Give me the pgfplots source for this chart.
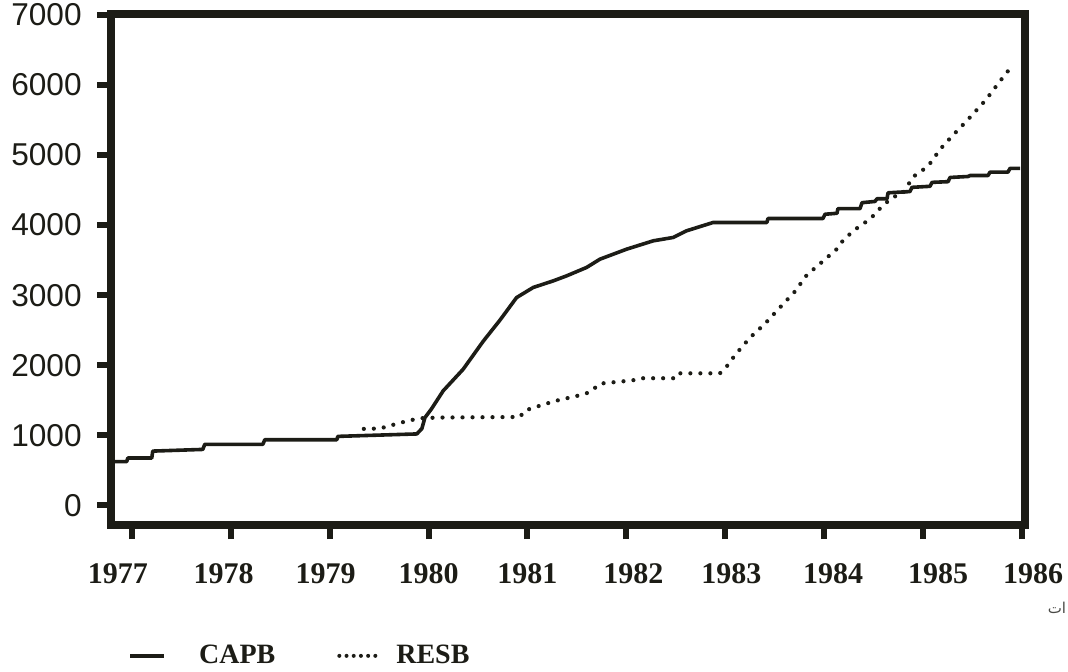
\documentclass[border=0pt]{standalone}
\usepackage{pgfplots}
\pgfplotsset{compat=1.18}
\usepackage{pgfplotstable}
\usepackage{fontspec}
\setmainfont{Liberation Serif}
\newfontfamily\sansf{Liberation Sans}
\newfontfamily\arabicfont[Script=Arabic]{DejaVu Sans}
\TeXXeTstate=1
\definecolor{ink}{HTML}{1C1C16}
\newcommand{\sh}[2]{\makebox[0pt]{\hspace{#1}#2}}

\pgfplotstableread{
x y
1976.808 625
1976.949 625
1976.960 676
1977.202 676
1977.212 775
1977.718 799
1977.738 872
1978.325 872
1978.345 937
1979.073 937
1979.083 985
1979.882 1020
1979.933 1097
1979.963 1251
1980.031 1380
1980.148 1635
1980.350 1943
1980.553 2343
1980.721 2642
1980.890 2966
1981.058 3110
1981.260 3204
1981.396 3276
1981.598 3396
1981.733 3514
1982.003 3657
1982.272 3776
1982.474 3824
1982.609 3919
1982.878 4038
1983.421 4038
1983.431 4094
1983.987 4094
1984.008 4155
1984.129 4169
1984.139 4235
1984.362 4235
1984.382 4320
1984.513 4338
1984.534 4376
1984.635 4376
1984.645 4461
1984.867 4479
1984.887 4539
1985.070 4554
1985.090 4610
1985.252 4620
1985.272 4680
1985.454 4694
1985.474 4708
1985.656 4708
1985.676 4756
1985.858 4756
1985.878 4810
1985.980 4810
}\capb

\pgfplotstableread{
x y
1979.346 1092
1979.508 1097
1979.639 1149
1979.811 1215
1979.943 1246
1980.115 1254
1980.924 1262
1980.974 1354
1981.176 1446
1981.328 1508
1981.480 1554
1981.631 1615
1981.733 1738
1982.066 1785
1982.137 1815
1982.511 1815
1982.541 1885
1982.946 1885
1983.027 2004
1983.098 2145
1983.249 2393
1983.401 2593
1983.553 2825
1983.704 3053
1983.823 3286
1983.991 3490
1984.126 3657
1984.200 3800
1984.328 3953
1984.470 4094
1984.547 4215
1984.682 4390
1984.800 4461
1984.898 4690
1984.975 4761
1985.059 4859
1985.176 5089
1985.305 5289
1985.373 5387
1985.491 5564
1985.636 5791
1985.760 6023
1985.871 6223
}\resb

\begin{document}
\begin{tikzpicture}
\begin{axis}[
  scale only axis,
  width=457pt, height=255.5pt,
  xmin=1976.79, xmax=1986.03,
  ymin=-280, ymax=7013,
  clip=false,
  axis line style={line width=4pt, ink, line join=miter},
  tick align=outside,
  tick pos=left,
  major tick length=7pt,
  tick style={line width=3pt, ink},
  xtick={1977,1978,...,1986},
  xticklabels={\sh{-14pt}{1977},\sh{-7pt}{1978},\sh{-4pt}{1979},\sh{0pt}{1980},\sh{0pt}{1981},\sh{7pt}{1982},\sh{6pt}{1983},\sh{9pt}{1984},\sh{15pt}{1985},\sh{11pt}{1986}},
  ytick={0,1000,...,7000},
  /pgf/number format/1000 sep={},
  /pgf/number format/assume math mode=true,
  yticklabel style={font=\sansf\fontsize{15.8}{16}\selectfont, inner sep=0pt, anchor=east, xshift=-7.5pt, text=ink},
  xticklabel style={font=\bfseries\fontsize{15}{16}\selectfont, inner sep=0pt, anchor=north, yshift=-12pt, text=ink},
  legend columns=2,
  legend style={draw=none, fill=none, inner sep=0pt,
    at={(0.0186,-0.256)}, anchor=west,
    font=\bfseries\fontsize{14}{15}\selectfont, text=ink,
    nodes={inner sep=0pt},
    /tikz/every odd column/.style={column sep=0pt},
    /tikz/every even column/.style={column sep=31pt}},
]
\addplot[ink, line width=1.8pt, line join=round,
  legend image code/.code={\draw[ink,line width=1.7pt,solid] (0pt,0pt) -- (17pt,0pt); \path[draw=none] (0pt,0pt) -- (34.5pt,0pt);}]
  table[x=x,y=y]{\capb};
\addlegendentry{CAPB}
\addplot[ink, line width=2.1pt, line cap=round, dash pattern=on 0pt off 5pt,
  legend image code/.code={\draw[ink,line width=2pt,line cap=round,dash pattern=on 0pt off 3.6pt] (0pt,0pt) -- (18.5pt,0pt); \path[draw=none] (0pt,0pt) -- (28.5pt,0pt);}]
  table[x=x,y=y]{\resb};
\addlegendentry{RESB}
\node[font=\arabicfont\fontsize{7.5}{8}\selectfont, text=ink!80] at (rel axis cs:1.035,-0.162) {\beginR ات\endR};
\coordinate (bbsw) at (rel axis cs:-0.12144,-0.28571);
\coordinate (bbne) at (rel axis cs:1.04705,1.02740);
\end{axis}
\pgfresetboundingbox
\path[use as bounding box] (bbsw) rectangle (bbne);
\end{tikzpicture}
\end{document}
